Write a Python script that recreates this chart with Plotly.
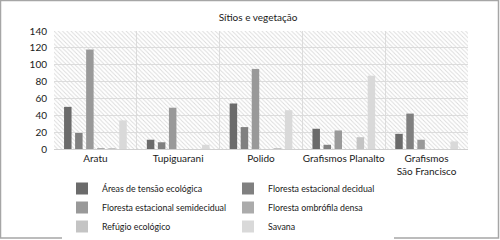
import plotly.graph_objects as go

categories = ["Aratu", "Tupiguarani", "Polido", "Grafismos Planalto", "Grafismos<br>São Francisco"]
series_names = [
    "Áreas de tensão ecológica",
    "Floresta estacional decidual",
    "Floresta estacional semidecidual",
    "Floresta ombrófila densa",
    "Refúgio ecológico",
    "Savana",
]
areas_tensao = [50, 11, 54, 24, 18]
floresta_decidual = [19, 8, 26, 5, 42]
floresta_semidecidual = [118, 49, 95, 22, 11]
floresta_ombrofila = [1, 0, 0, 0, 0]
refugio = [1, 0, 1, 14, 0]
savana = [34, 5, 46, 87, 9]
series_values = [areas_tensao, floresta_decidual, floresta_semidecidual,
                 floresta_ombrofila, refugio, savana]
y_ticks = [0, 20, 40, 60, 80, 100, 120, 140]

colors = ["#6b6b6b", "#808080", "#999999", "#ababab", "#c4c4c4", "#d9d9d9"]
FONT = "Lato, 'Open Sans', sans-serif"

W, H = 500, 240
ML, MR, MT, MB = 54, 32, 31, 91
PW, PH = W - ML - MR, H - MT - MB

fig = go.Figure()

# decorative hatched plot background (not data)
fig.add_trace(go.Bar(
    x=[0], y=[1], width=[1], xaxis="x", yaxis="y",
    marker=dict(color="rgba(255,255,255,0.01)", line=dict(width=0),
                pattern=dict(shape="\\", fgcolor="#dadada", fgopacity=1,
                             fillmode="overlay", size=3, solidity=0.3)),
    showlegend=False, hoverinfo="skip",
))

for name, vals, col in zip(series_names, series_values, colors):
    fig.add_trace(go.Bar(
        x=categories, y=vals, name=name, xaxis="x2", yaxis="y2",
        marker=dict(color=col, line=dict(width=0)),
    ))

fig.update_layout(
    width=W, height=H,
    margin=dict(l=ML, r=MR, t=MT, b=MB, autoexpand=False),
    paper_bgcolor="white", plot_bgcolor="white",
    font=dict(family=FONT, size=10, color="#1a1a1a"),
    title=dict(text="Sítios e vegetação", x=(258) / W, xanchor="center",
               y=1 - 17 / H, yanchor="middle", font=dict(size=10, family=FONT, color="#1a1a1a")),
    barmode="group", bargap=0.2, bargroupgap=0.32,
    xaxis=dict(range=[-0.5, 0.5], visible=False, fixedrange=True),
    yaxis=dict(range=[0, 1], visible=False, fixedrange=True),
    xaxis2=dict(overlaying="x", type="category", tickson="boundaries",
                showgrid=True, gridcolor="#dcdcdc", gridwidth=1, tickangle=0,
                ticks="", showline=True, linecolor="#d0d0d0", automargin=False,
                tickfont=dict(size=10, family=FONT, color="#1a1a1a")),
    yaxis2=dict(overlaying="y", range=[0, 140], tickvals=y_ticks,
                showgrid=True, gridcolor="#dcdcdc", gridwidth=1, zeroline=False,
                ticks="", ticklabelstandoff=6, automargin=False,
                tickfont=dict(size=10, family=FONT, color="#1a1a1a")),
    legend=dict(orientation="h", x=(62 - ML) / PW, xanchor="left",
                y=-(174 - MT - PH) / PH, yanchor="top",
                entrywidth=121, entrywidthmode="pixels",
                font=dict(size=8.8, family=FONT, color="#1a1a1a"),
                itemwidth=30, tracegroupgap=0, traceorder="normal"),
    showlegend=True,
)

# outer border of the whole figure
fig.add_shape(type="rect", xref="paper", yref="paper",
              x0=-(ML - 0.5) / PW, x1=1 + (MR - 1.5) / PW,
              y0=-(MB - 2) / PH, y1=1 + (MT - 0.5) / PH,
              line=dict(color="#a6a6a6", width=1.5), fillcolor="rgba(0,0,0,0)", layer="above")

fig.write_html("out.html", config={"displayModeBar": False},
               post_script="document.body.style.margin='0';")
